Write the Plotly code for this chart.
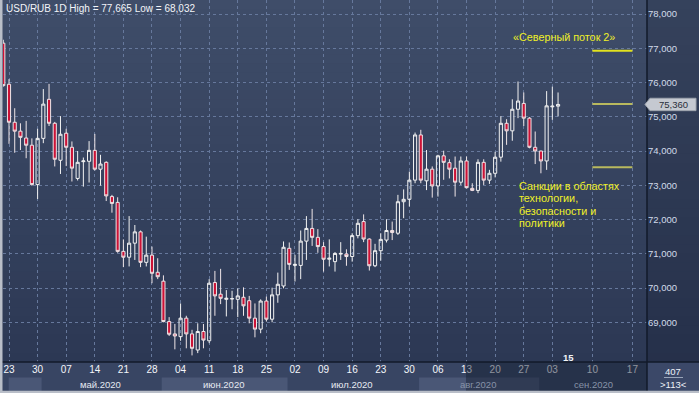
import plotly.graph_objects as go
import pandas as pd

# ---------------- data ----------------
dates = pd.bdate_range("2020-04-22", "2020-09-04")

opens = [77.15, 75.95, 74.84, 74.58, 74.38, 74.17, 73.02, 74.37, 75.51, 74.81,
         73.73, 74.52, 74.11, 73.20, 73.69, 73.70, 74.02, 73.47, 73.67, 72.67,
         72.50, 71.07, 70.90, 71.31, 71.64, 70.75, 70.96, 70.46, 70.20, 69.02,
         68.66, 68.58, 69.12, 68.66, 68.19, 68.73, 68.46, 70.16, 69.82, 69.67,
         69.68, 69.67, 69.73, 69.63, 69.12, 68.80, 69.62, 69.09, 69.80, 70.06,
         71.16, 70.66, 70.66, 71.37, 71.74, 71.48, 71.21, 70.84, 70.77, 70.99,
         70.99, 70.92, 71.53, 71.94, 71.43, 70.65, 71.09, 71.40, 71.68, 71.60,
         72.52, 72.59, 73.15, 74.47, 73.13, 73.47, 72.98, 73.86, 73.66, 73.50,
         73.09, 73.71, 72.91, 72.85, 73.67, 73.15, 73.35, 73.82, 74.81, 74.59,
         75.22, 75.39, 74.96, 74.11, 74.00, 73.71, 75.29, 75.31]
highs = [77.25, 76.10, 75.25, 74.81, 74.88, 74.37, 74.65, 75.81, 75.96, 74.85,
         75.02, 74.65, 74.28, 74.00, 73.81, 74.29, 74.50, 73.89, 73.70, 72.72,
         72.65, 71.42, 72.10, 71.84, 71.68, 71.50, 71.21, 70.87, 70.37, 69.15,
         68.95, 69.55, 69.19, 68.78, 68.97, 68.95, 70.26, 70.50, 70.56, 69.94,
         69.92, 69.99, 70.02, 69.77, 69.55, 69.67, 69.75, 70.01, 70.45, 71.36,
         71.33, 70.97, 71.68, 72.10, 72.31, 71.72, 71.34, 71.42, 71.05, 71.34,
         71.13, 71.60, 72.01, 72.15, 71.45, 71.29, 71.60, 72.01, 71.94, 72.72,
         72.88, 73.40, 74.54, 74.62, 74.03, 73.55, 73.89, 74.01, 73.76, 73.84,
         73.84, 73.84, 73.06, 73.76, 73.76, 73.45, 73.98, 75.02, 74.93, 75.51,
         76.03, 75.71, 74.99, 74.57, 74.01, 75.75, 75.88, 75.71]
lows = [75.88, 74.21, 73.95, 74.03, 73.79, 72.99, 72.60, 74.23, 74.73, 73.55,
        73.33, 73.56, 73.11, 73.14, 72.96, 73.08, 73.43, 72.99, 72.54, 72.20,
        71.03, 70.61, 70.63, 70.82, 70.61, 70.63, 70.14, 70.26, 69.00, 68.60,
        68.21, 68.46, 68.24, 68.032, 68.10, 68.24, 68.39, 69.19, 69.53, 69.17,
        69.38, 69.15, 69.19, 68.97, 68.56, 68.68, 69.02, 69.00, 69.57, 69.99,
        70.53, 70.19, 70.26, 70.82, 71.23, 71.03, 70.48, 70.63, 70.48, 70.82,
        70.65, 70.77, 71.45, 71.34, 70.51, 70.61, 70.80, 71.33, 71.40, 71.55,
        72.04, 72.38, 73.06, 73.06, 72.86, 72.64, 72.67, 73.16, 73.20, 72.67,
        73.01, 72.91, 72.83, 72.77, 73.01, 73.04, 73.23, 73.69, 74.18, 74.30,
        74.96, 74.73, 74.08, 73.62, 73.35, 73.45, 74.91, 75.01]
closes = [75.91, 74.84, 74.58, 74.40, 74.17, 73.02, 74.37, 75.37, 74.81, 73.76,
          74.49, 74.11, 73.50, 73.67, 73.71, 74.02, 73.47, 73.62, 72.69, 72.47,
          71.07, 70.90, 71.31, 71.64, 70.75, 70.96, 70.43, 70.33, 69.02, 68.65,
          68.60, 69.12, 68.66, 68.24, 68.73, 68.48, 70.14, 69.77, 69.70, 69.70,
          69.69, 69.77, 69.48, 69.12, 68.80, 69.62, 69.09, 69.80, 70.11, 71.19,
          70.69, 70.69, 71.37, 71.74, 71.48, 71.21, 70.84, 70.87, 71.01, 71.01,
          70.92, 71.53, 71.89, 71.43, 70.65, 71.09, 71.42, 71.68, 71.62, 72.52,
          72.59, 73.15, 74.47, 73.15, 73.47, 72.98, 73.86, 73.67, 73.47, 73.09,
          73.71, 72.93, 72.85, 73.67, 73.15, 73.35, 73.82, 74.81, 74.59, 75.22,
          75.46, 74.96, 74.11, 74.00, 73.71, 75.32, 75.31, 75.36]

tick_dates = pd.date_range("2020-04-23", "2020-09-17", freq="7D")
tick_labels = ["23", "30", "07", "14", "21", "28", "04", "11", "18", "25", "02",
               "09", "16", "23", "30", "06", "13", "20", "27", "03", "10", "17"]
month_labels = {5: "май.2020", 6: "июн.2020", 7: "июл.2020", 8: "авг.2020", 9: "сен.2020"}
y_ticks = [69, 70, 71, 72, 73, 74, 75, 76, 77, 78]

title_text = "USD/RUB 1D High = 77,665 Low = 68,032"
last_price = 75.36
level_lines = [76.93, 75.37, 73.53]
note1 = "«Северный поток 2»"
note2_lines = ["Санкции в областях", "технологии,", "безопасности и", "политики"]

# ---------------- helpers ----------------
n = len(dates)
x_idx = list(range(n))
XR = [-0.05, 112.55]
YR = [67.84, 78.41]
PLOT_W, PLOT_H, ML = 644, 362, 3
PX_PER_UNIT = PLOT_H / (YR[1] - YR[0])


def date_pos(d):
    if d <= dates[-1]:
        return dates.get_loc(d)
    return n - 1 + (d - dates[-1]).days


def xp(i):  # index -> paper x
    return (i - XR[0]) / (XR[1] - XR[0])


def px2paper_x(px):
    return (px - ML) / PLOT_W


def py2paper_y(py):
    return (PLOT_H - py) / PLOT_H


tick_pos = [date_pos(d) for d in tick_dates]

fig = go.Figure()
fig.add_trace(go.Candlestick(
    x=x_idx, open=opens, high=highs, low=lows, close=closes,
    increasing=dict(line=dict(color="#f2f2f2", width=1), fillcolor="rgba(0,0,0,0)"),
    decreasing=dict(line=dict(color="#f0e6e8", width=1), fillcolor="#cc1236"),
    whiskerwidth=0, hoverinfo="skip", showlegend=False,
))

shapes = []
# background gradient
N = 40
top = (63, 77, 105)
bot = (44, 56, 84)
for k in range(N):
    t = (k + 0.5) / N
    c = tuple(int(round(bot[j] + (top[j] - bot[j]) * t)) for j in range(3))
    shapes.append(dict(type="rect", xref="paper", yref="paper", x0=-0.01, x1=1.09,
                       y0=k / N, y1=(k + 1) / N + 0.002, line=dict(width=0),
                       fillcolor="rgb(%d,%d,%d)" % c, layer="below"))
# right panel slightly darker
shapes.append(dict(type="rect", xref="paper", yref="paper", x0=1, x1=1.09, y0=0, y1=1,
                   line=dict(width=0), fillcolor="rgba(10,16,32,0.18)", layer="below"))
# bottom axis strip
shapes.append(dict(type="rect", xref="paper", yref="paper", x0=-0.01, x1=1.09,
                   y0=py2paper_y(394), y1=0, line=dict(width=0), fillcolor="#384563", layer="below"))
# month bands (alternating)
month_first = {}
for i, d in enumerate(dates):
    month_first.setdefault(d.month, i)
band_specs = [(4, 1, month_first[5]), (6, month_first[6], month_first[7]), (8, month_first[8], month_first[9])]
for m, a, b in band_specs:
    x0 = a - 0.05 if m == 4 else a - 0.3
    shapes.append(dict(type="rect", xref="paper", yref="paper", x0=xp(x0), x1=xp(b - 0.3),
                       y0=py2paper_y(391), y1=py2paper_y(377.5), line=dict(width=0),
                       fillcolor="#4a5776", layer="below"))
# bottom-right cell
shapes.append(dict(type="rect", xref="paper", yref="paper", x0=1, x1=1.09,
                   y0=py2paper_y(394), y1=0, line=dict(width=0), fillcolor="#3b4868", layer="below"))
# dim overlay on the axis strip (recent region)
shapes.append(dict(type="rect", xref="paper", yref="paper", x0=xp(80.9), x1=1,
                   y0=py2paper_y(391), y1=0, line=dict(width=0), fillcolor="rgba(18,26,44,0.45)", layer="above"))
# separators
shapes.append(dict(type="line", xref="paper", yref="paper", x0=1, x1=1, y0=py2paper_y(391), y1=1,
                   line=dict(color="#121a2a", width=1.5), layer="above"))
shapes.append(dict(type="line", xref="paper", yref="paper", x0=px2paper_x(0), x1=1.09, y0=0, y1=0,
                   line=dict(color="#121a2a", width=1.5), layer="above"))
# frame (left and bottom)
shapes.append(dict(type="rect", xref="paper", yref="paper", x0=px2paper_x(0), x1=px2paper_x(2.5),
                   y0=py2paper_y(394), y1=1.01, line=dict(width=0), fillcolor="#b9bec8", layer="above"))
shapes.append(dict(type="rect", xref="paper", yref="paper", x0=px2paper_x(0), x1=1.09,
                   y0=py2paper_y(394), y1=py2paper_y(390.8), line=dict(width=0), fillcolor="#b9bec8", layer="above"))
# underline of 407
shapes.append(dict(type="line", xref="paper", yref="paper", x0=px2paper_x(664), x1=px2paper_x(683),
                   y0=py2paper_y(377.5), y1=py2paper_y(377.5), line=dict(color="#9aa6ba", width=1), layer="above"))
# yellow level lines
lvl_colors = ["#e2e21e", "#b9b95e", "#b9b95e"]
for lv, col in zip(level_lines, lvl_colors):
    shapes.append(dict(type="line", xref="x", yref="y", x0=103, x1=110, y0=lv, y1=lv,
                       line=dict(color=col, width=2), layer="above"))
# last price tag
h = 6.2 / PX_PER_UNIT
tip, b0, b1 = px2paper_x(645), px2paper_x(650), px2paper_x(696)
shapes.append(dict(type="path", xref="paper", yref="y",
                   path="M %f,%f L %f,%f L %f,%f L %f,%f L %f,%f Z" % (
                       tip, last_price, b0, last_price + h, b1, last_price + h, b1, last_price - h, b0, last_price - h),
                   fillcolor="#c5c9d1", line=dict(color="#9ea4ae", width=1), layer="above"))

annotations = []
annotations.append(dict(text=title_text, xref="paper", yref="paper", x=px2paper_x(4), y=py2paper_y(8),
                        xanchor="left", yanchor="middle", showarrow=False,
                        font=dict(size=10, color="#f2f4f8")))
annotations.append(dict(text="75,360", xref="paper", yref="y", x=px2paper_x(673), y=last_price,
                        xanchor="center", yanchor="middle", showarrow=False,
                        font=dict(size=9.5, color="#2a2f3a")))
annotations.append(dict(text=note1, xref="x", yref="y", x=98.1, y=77.33, xanchor="center",
                        yanchor="middle", showarrow=False, font=dict(size=10.8, color="#f0f028")))
for k, line in enumerate(note2_lines):
    yk = 72.99 - k * 12.6 / PX_PER_UNIT
    annotations.append(dict(text=line, xref="x", yref="y", x=89.9, y=yk, xanchor="left",
                            yanchor="middle", showarrow=False, font=dict(size=10.8, color="#f0f028")))
# month labels
for m, name in month_labels.items():
    idxs = [i for i, d in enumerate(dates) if d.month == m]
    a = idxs[0]
    b = min(XR[1], idxs[-1] if m != 9 else XR[1])
    col = "#e6eaf2" if m < 8 else "#8792a8"
    annotations.append(dict(text=name, xref="paper", yref="paper", x=xp((a + b) / 2),
                            y=py2paper_y(384), xanchor="center", yanchor="middle", showarrow=False,
                            font=dict(size=9.5, color=col)))
annotations.append(dict(text="<b>15</b>", xref="paper", yref="paper", x=px2paper_x(568), y=py2paper_y(357),
                        xanchor="center", yanchor="middle", showarrow=False, font=dict(size=9.5, color="#f2f4f8")))
annotations.append(dict(text="407", xref="paper", yref="paper", x=px2paper_x(673), y=py2paper_y(371),
                        xanchor="center", yanchor="middle", showarrow=False, font=dict(size=9.5, color="#eef2f8")))
annotations.append(dict(text="&gt;113&lt;", xref="paper", yref="paper", x=px2paper_x(673), y=py2paper_y(384),
                        xanchor="center", yanchor="middle", showarrow=False, font=dict(size=9.5, color="#eef2f8")))

fig.update_layout(
    width=699, height=393,
    margin=dict(l=ML, r=699 - ML - PLOT_W, t=0, b=393 - PLOT_H),
    paper_bgcolor="#2f3b57", plot_bgcolor="rgba(0,0,0,0)",
    font=dict(family="Liberation Sans, Arial, sans-serif", size=9.5, color="#e8ecf4"),
    separators=", ",
    showlegend=False, hovermode=False, boxgap=0.22,
    shapes=shapes, annotations=annotations,
    xaxis=dict(range=XR, tickmode="array", tickvals=tick_pos, ticktext=tick_labels,
               showgrid=True, gridcolor="#66789c", griddash="3px,3px", gridwidth=1,
               zeroline=False, showline=False, ticks="", rangeslider=dict(visible=False),
               tickfont=dict(size=10, color="#f4f6fa"), fixedrange=True),
    yaxis=dict(range=YR, side="right", tickmode="array", tickvals=y_ticks, tickformat=".3f",
               showgrid=True, gridcolor="#66789c", griddash="3px,3px", gridwidth=1,
               zeroline=False, showline=False, ticks="",
               tickfont=dict(size=9.5, color="#d2dbea"), fixedrange=True),
)

fig.write_html("out.html", config=dict(displayModeBar=False, staticPlot=True))

# remove the default page margin so the figure sits at the window's top-left corner
with open("out.html", encoding="utf-8") as f:
    html = f.read()
html = html.replace("<head>", "<head><style>html,body{margin:0;padding:0;overflow:hidden;}</style>", 1)
with open("out.html", "w", encoding="utf-8") as f:
    f.write(html)
